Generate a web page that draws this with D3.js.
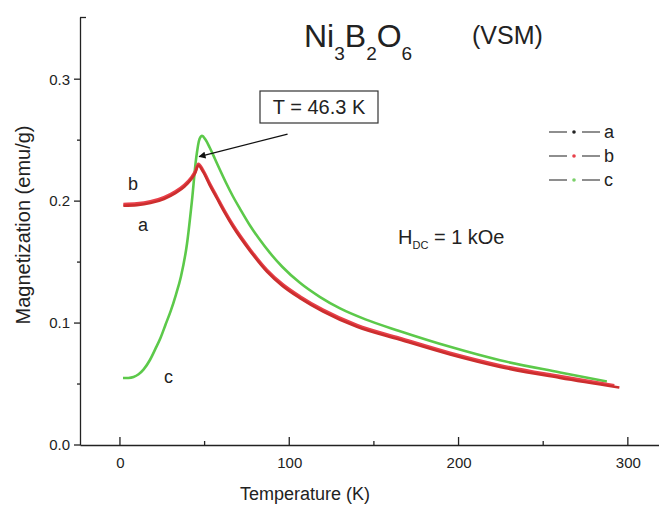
<!DOCTYPE html>
<meta charset="utf-8">
<script src="https://d3js.org/d3.v7.min.js"></script>
<style>
  body { margin: 0; background: #fff; }
  text { font-family: "Liberation Sans", Arial, sans-serif; fill: #222; }
  .axis path, .axis line { stroke: #222; stroke-width: 1.3px; }
</style>
<svg id="chart" width="659" height="507"></svg>
<script>
// series: temperature (K) and magnetization (emu/g)
const tempA = [2, 10, 18, 26, 33, 38, 42, 44.5, 46.3, 49, 53, 57.3, 62, 66.7, 76.8, 86.8, 96, 106.3, 120, 140, 165, 195, 224.5, 260, 295];
const magA  = [0.1962, 0.1967, 0.1984, 0.2018, 0.2068, 0.2118, 0.2178, 0.2232, 0.2292, 0.2242, 0.2132, 0.2022, 0.1902, 0.1792, 0.1592, 0.1422, 0.1305, 0.1205, 0.1095, 0.0970, 0.0865, 0.0742, 0.0640, 0.0550, 0.0472];
const tempB = [2, 10, 18, 26, 33, 38, 42, 44.5, 46.3, 49, 53, 57.3, 62, 66.7, 76.8, 86.8, 96, 106.3, 120, 140, 165, 195, 224.5, 260, 292];
const magB  = [0.1975, 0.1980, 0.1997, 0.2031, 0.2081, 0.2131, 0.2191, 0.2245, 0.2305, 0.2255, 0.2145, 0.2035, 0.1915, 0.1805, 0.1605, 0.1435, 0.1318, 0.1218, 0.1108, 0.0983, 0.0878, 0.0755, 0.0653, 0.0563, 0.0488];
const tempC = [1.8, 5, 8, 11, 14, 17.7, 21, 24, 27, 30, 33, 36, 39.6, 42.5, 45, 47, 48.5, 50.5, 53, 56, 59.1, 62.5, 66.7, 71, 76.8, 82, 88.6, 96, 106.3, 118, 130, 145, 165, 195, 224.5, 260, 287.6];
const magC  = [0.0549, 0.0550, 0.0558, 0.0580, 0.0620, 0.0697, 0.0790, 0.0880, 0.0990, 0.1100, 0.1230, 0.1380, 0.1650, 0.2000, 0.2350, 0.2510, 0.2535, 0.2505, 0.2440, 0.2350, 0.2255, 0.2155, 0.2040, 0.1935, 0.1800, 0.1695, 0.1575, 0.1460, 0.1330, 0.1215, 0.1120, 0.1030, 0.0935, 0.0805, 0.0695, 0.0595, 0.0520];

const xTicks = [0, 100, 200, 300];
const yTicks = [0.0, 0.1, 0.2, 0.3];
const seriesNames = ["a", "b", "c"];

const svg = d3.select("#chart");

const x = d3.scaleLinear().domain([-23.6, 318.4]).range([80, 659]);
const y = d3.scaleLinear().domain([0, 0.351]).range([445, 17]);

// axes
svg.append("g").attr("class", "axis")
  .attr("transform", "translate(0,445)")
  .call(d3.axisBottom(x).tickValues(xTicks).tickSize(0).tickPadding(12).tickFormat(d3.format("d")))
  .call(g => g.selectAll("text").attr("font-size", 15).attr("fill", "#333").style("font-family", "Liberation Sans, Arial, sans-serif"));

// inward ticks on the x axis
svg.append("g").selectAll("line")
  .data(d3.range(0, 301, 50))
  .join("line")
  .attr("x1", d => x(d)).attr("x2", d => x(d))
  .attr("y1", 445).attr("y2", d => d % 100 === 0 ? 437 : 441)
  .attr("stroke", "#222").attr("stroke-width", 1.3);

svg.append("g").attr("class", "axis")
  .attr("transform", "translate(80,0)")
  .call(d3.axisLeft(y).tickValues(yTicks).tickSize(0).tickPadding(10).tickFormat(d3.format(".1f")))
  .call(g => g.selectAll("text").attr("font-size", 15).attr("fill", "#333").style("font-family", "Liberation Sans, Arial, sans-serif"));

svg.append("g").selectAll("line")
  .data(d3.range(0, 0.31, 0.05))
  .join("line")
  .attr("x1", 80).attr("x2", (d, i) => i % 2 === 0 ? 74 : 77)
  .attr("y1", d => y(d)).attr("y2", d => y(d))
  .attr("stroke", "#222").attr("stroke-width", 1.3);

svg.append("line").attr("x1", 80).attr("x2", 86).attr("y1", 17.5).attr("y2", 17.5)
  .attr("stroke", "#222").attr("stroke-width", 1.3);

// axis titles
svg.append("text").attr("x", 305).attr("y", 500).attr("text-anchor", "middle")
  .attr("font-size", 18).text("Temperature (K)");
svg.append("text").attr("transform", "translate(30,225) rotate(-90)").attr("text-anchor", "middle")
  .attr("font-size", 20).text("Magnetization (emu/g)");

// curves
const line = d3.line().x(d => x(d[0])).y(d => y(d[1])).curve(d3.curveMonotoneX);
const curve = (t, m) => t.map((d, i) => [d, m[i]]);

svg.append("path").attr("d", line(curve(tempC, magC)))
  .attr("fill", "none").attr("stroke", "#5cc94a").attr("stroke-width", 2.6);
svg.append("path").attr("d", line(curve(tempB, magB)))
  .attr("fill", "none").attr("stroke", "#e8404a").attr("stroke-width", 3);
svg.append("path").attr("d", line(curve(tempA, magA)))
  .attr("fill", "none").attr("stroke", "#cc2e2e").attr("stroke-width", 2.6);

// curve labels
svg.append("text").attr("x", 128).attr("y", 190).attr("font-size", 18).text("b");
svg.append("text").attr("x", 138).attr("y", 231).attr("font-size", 18).text("a");
svg.append("text").attr("x", 164).attr("y", 383).attr("font-size", 18).text("c");

// title
const title = svg.append("text").attr("x", 304).attr("y", 47).attr("font-size", 32);
title.append("tspan").text("Ni");
title.append("tspan").attr("font-size", 19).attr("dy", 13).text("3");
title.append("tspan").attr("dy", -13).text("B");
title.append("tspan").attr("font-size", 19).attr("dy", 13).text("2");
title.append("tspan").attr("dy", -13).text("O");
title.append("tspan").attr("font-size", 19).attr("dy", 13).text("6");
svg.append("text").attr("x", 472).attr("y", 44).attr("font-size", 25).text("(VSM)");

// field label
const h = svg.append("text").attr("x", 398).attr("y", 244).attr("font-size", 20);
h.append("tspan").text("H");
h.append("tspan").attr("font-size", 11).attr("dy", 5).text("DC");
h.append("tspan").attr("dy", -5).text(" = 1 kOe");

// annotation box and arrow
svg.append("rect").attr("x", 260).attr("y", 91).attr("width", 118).attr("height", 32)
  .attr("fill", "#fff").attr("stroke", "#333").attr("stroke-width", 1.2);
svg.append("text").attr("x", 319).attr("y", 114).attr("text-anchor", "middle")
  .attr("font-size", 20).text("T = 46.3 K");

svg.append("defs").append("marker").attr("id", "head")
  .attr("viewBox", "0 0 10 10").attr("refX", 9).attr("refY", 5)
  .attr("markerWidth", 9).attr("markerHeight", 7).attr("orient", "auto")
  .attr("markerUnits", "userSpaceOnUse")
  .append("path").attr("d", "M0,0L10,5L0,10z").attr("fill", "#111");
svg.append("line")
  .attr("x1", x(99)).attr("y1", y(0.255))
  .attr("x2", x(46.8)).attr("y2", y(0.2365))
  .attr("stroke", "#111").attr("stroke-width", 1.4).attr("marker-end", "url(#head)");

// legend
const legendColors = ["#222", "#e8404a", "#7bd06a"];
const lg = svg.append("g").selectAll("g").data(seriesNames).join("g")
  .attr("transform", (d, i) => `translate(549,${132 + i * 24})`);
lg.append("line").attr("x1", 0).attr("x2", 18).attr("stroke", "#444").attr("stroke-width", 1.2);
lg.append("line").attr("x1", 33).attr("x2", 51).attr("stroke", "#444").attr("stroke-width", 1.2);
lg.append("circle").attr("cx", 25).attr("r", 1.8).attr("fill", (d, i) => legendColors[i]);
lg.append("text").attr("x", 55).attr("y", 6).attr("font-size", 18).text(d => d);
</script>
